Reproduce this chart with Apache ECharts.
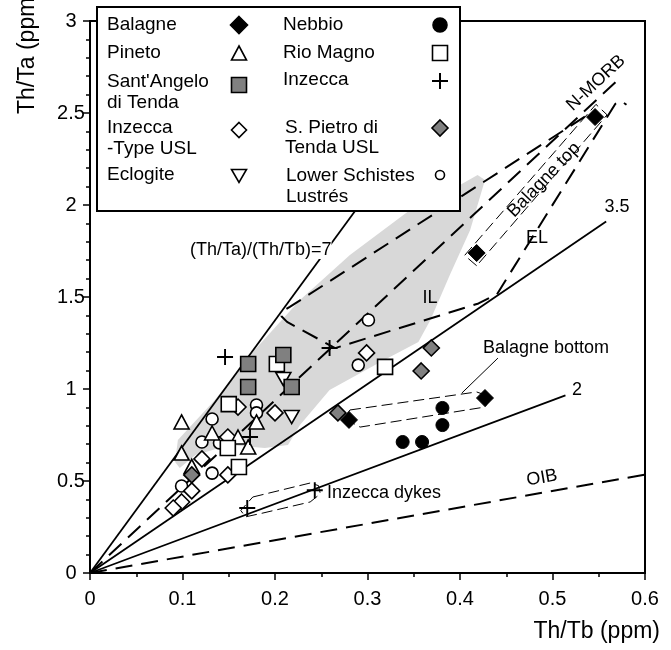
<!DOCTYPE html>
<html><head><meta charset="utf-8">
<script src="https://cdn.jsdelivr.net/npm/echarts@6/dist/echarts.min.js"></script>
<style>html,body{margin:0;padding:0;background:#fff}#c{width:671px;height:650px}</style>
</head><body><div id="c"></div>
<script>
// ---- tick labels ----
const xTickLabels = ['0','0.1','0.2','0.3','0.4','0.5','0.6'];
const yTickLabels = ['0','0.5','1','1.5','2','2.5','3'];

// ---- sample groups [Th/Tb, Th/Ta] ----
const balagne    = [[0.280,0.832],[0.427,0.951],[0.418,1.739],[0.546,2.478]];
const nebbio     = [[0.338,0.712],[0.359,0.712],[0.381,0.804],[0.381,0.897]];
const pineto     = [[0.099,0.821],[0.099,0.652],[0.132,0.761],[0.160,0.739],[0.171,0.685],[0.180,0.821],[0.110,0.580]];
const rioMagno   = [[0.150,0.918],[0.202,1.136],[0.149,0.679],[0.161,0.576],[0.319,1.120]];
const santAngelo = [[0.171,1.136],[0.171,1.011],[0.209,1.185],[0.218,1.011]];
const inzecca    = [[0.146,1.174],[0.173,0.739],[0.259,1.223],[0.170,0.353],[0.243,0.450]];
const inzeccaUSL = [[0.160,0.902],[0.200,0.870],[0.149,0.739],[0.121,0.620],[0.149,0.533],[0.110,0.446],[0.099,0.386],[0.090,0.353],[0.299,1.196]];
const sPietroUSL = [[0.110,0.533],[0.268,0.870],[0.358,1.098],[0.369,1.223]];
const eclogite   = [[0.209,1.054],[0.218,0.848]];
const lowerSL    = [[0.180,0.913],[0.180,0.870],[0.132,0.837],[0.121,0.712],[0.140,0.707],[0.132,0.543],[0.099,0.473],[0.301,1.375],[0.290,1.130]];

// ---- reference lines and fields ----
const line7      = [[0,0],[0.300,2.06]];
const line35     = [[0,0],[0.558,1.91]];
const line2      = [[0,0],[0.514,0.965]];
const oibLine    = [[0,0],[0.600,0.535]];
const nmorbLine  = [[0,0],[0.575,2.70]];
const ilElField  = [[0.535,2.48],[0.216,1.446],[0.209,1.425],[0.207,1.395],[0.213,1.365],[0.265,1.222],[0.420,1.465],[0.440,1.515],[0.568,2.550],[0.574,2.565],[0.580,2.545]];
const grayField  = [[0.092,0.603],[0.095,0.723],[0.135,0.940],[0.178,1.212],[0.227,1.484],[0.281,1.728],[0.346,1.973],[0.400,2.109],[0.419,2.163],[0.427,2.136],[0.411,1.864],[0.389,1.620],[0.368,1.375],[0.355,1.255],[0.314,1.147],[0.259,0.995],[0.227,0.804],[0.214,0.696],[0.189,0.679],[0.151,0.696],[0.114,0.641],[0.097,0.571]];
const balagneTop = [[0.418,1.670],[0.405,1.726],[0.547,2.547],[0.559,2.490],[0.418,1.670]];
const balagneBot = [[0.281,0.886],[0.418,0.984],[0.434,0.955],[0.427,0.902],[0.292,0.793],[0.275,0.840],[0.281,0.886]];
const balagneBotLeader = [[0.441,1.168],[0.402,0.978]];
const inzeccaDykes = [[0.176,0.413],[0.238,0.489],[0.247,0.475],[0.249,0.430],[0.238,0.386],[0.187,0.326],[0.168,0.305],[0.163,0.340],[0.176,0.413]];

const FONT = '"Liberation Sans", Arial, Helvetica, sans-serif';
const PLUS = 'path://M8.8,0h2.4v20h-2.4z M0,8.8h20v2.4h-20z';
const GRAY = '#808080';

const chart = echarts.init(document.getElementById('c'), null, {renderer:'canvas'});

function lineS(data, width, dash, z) {
  return {type:'line', data, symbol:'none', silent:true, animation:false, z: z || 3,
    lineStyle:{color:'#000', width, type: dash || 'solid', cap:'butt'}};
}
function scat(name, data, symbol, size, fill, bw, rot) {
  return {type:'scatter', name, data, symbol, symbolSize:size, symbolRotate: rot || 0, z:5,
    itemStyle:{color:fill, borderColor:'#000', borderWidth:bw, opacity:1}};
}
function txt(s, x, y, o) {
  o = o || {};
  return {type:'text', x, y, rotation: (o.rot || 0) * Math.PI / 180, z: o.z || 101,
    style:{text:s, fontSize:o.size || 18, fontFamily:FONT, fill:'#000',
      align:o.align || 'left', verticalAlign:'middle', backgroundColor:o.bg, padding:o.bg ? [0,0] : undefined}};
}
function diamond(cx, cy, r, fill) {
  return {type:'polygon', z:101, shape:{points:[[cx,cy-r],[cx+r,cy],[cx,cy+r],[cx-r,cy]]}, style:{fill, stroke:'#000', lineWidth:1.6}};
}
function tri(cx, cy, w, h, down) {
  const pts = down ? [[cx-w/2,cy-h/2],[cx+w/2,cy-h/2],[cx,cy+h/2]] : [[cx,cy-h/2],[cx+w/2,cy+h/2],[cx-w/2,cy+h/2]];
  return {type:'polygon', z:101, shape:{points:pts}, style:{fill:'#fff', stroke:'#000', lineWidth:1.6}};
}
function sq(cx, cy, s, fill) {
  return {type:'rect', z:101, shape:{x:cx-s/2, y:cy-s/2, width:s, height:s}, style:{fill, stroke:'#000', lineWidth:1.6}};
}
function circ(cx, cy, r, fill) {
  return {type:'circle', z:101, shape:{cx, cy, r}, style:{fill, stroke:'#000', lineWidth:1.6}};
}
function plus(cx, cy, r) {
  return {type:'group', z:101, children:[
    {type:'line', z:101, shape:{x1:cx-r, y1:cy, x2:cx+r, y2:cy}, style:{stroke:'#000', lineWidth:2}},
    {type:'line', z:101, shape:{x1:cx, y1:cy-r, x2:cx, y2:cy+r}, style:{stroke:'#000', lineWidth:2}}]};
}

const graphics = [
  // legend box
  {type:'rect', z:100, shape:{x:97, y:7, width:363, height:204}, style:{fill:'#fff', stroke:'#000', lineWidth:2}},
  txt('Balagne',107,25,{size:19}), txt('Pineto',107,53,{size:19}),
  txt("Sant'Angelo",107,82,{size:19}), txt('di Tenda',107,103,{size:19}),
  txt('Inzecca',107,128,{size:19}), txt('-Type USL',107,149,{size:19}),
  txt('Eclogite',107,175,{size:19}),
  txt('Nebbio',283,25,{size:19}), txt('Rio Magno',283,53,{size:19}),
  txt('Inzecca',283,80,{size:19}),
  txt('S. Pietro di',285,128,{size:19}), txt('Tenda USL',285,148,{size:19}),
  txt('Lower Schistes',286,176,{size:19}), txt('Lustrés',286,197,{size:19}),
  diamond(239,25,8.5,'#000'), tri(239,53,15,14,false), sq(239,85,15,GRAY),
  diamond(239,130,7.5,'#fff'), tri(239,176,15,13,true),
  circ(440,25,7,'#000'), sq(440,53,15,'#fff'), plus(440,81,8),
  diamond(440,128,8,GRAY), circ(440,175,4.5,'#fff'),
  // axis titles
  txt('Th/Ta (ppm)',28,52,{size:23, align:'center', rot:90}),
  txt('Th/Tb (ppm)',660,632,{size:23, align:'right'}),
  // in-plot annotations
  txt('(Th/Ta)/(Th/Tb)=7',190,250,{bg:'#fff', z:20}),
  txt('IL',430,298,{align:'center', z:20}),
  txt('EL',537,238,{align:'center', z:20}),
  txt('3.5',617,207,{align:'center', z:20}),
  txt('2',577,390,{align:'center', z:20}),
  txt('OIB',542,478,{align:'center', rot:10, z:20}),
  txt('Balagne bottom',483,348,{z:20}),
  txt('Inzecca dykes',327,493,{z:20}),
  txt('N-MORB',596,83,{align:'center', rot:43, z:20}),
  txt('Balagne top',544,180,{align:'center', rot:46, z:20})
];

const axisCommon = {
  type:'value',
  axisLine:{show:true, onZero:false, lineStyle:{color:'#000', width:2}},
  axisTick:{show:true, length:7, lineStyle:{color:'#000', width:1.5}},
  splitLine:{show:false}, minorSplitLine:{show:false}
};

chart.setOption({
  animation:false,
  backgroundColor:'#fff',
  grid:{left:90, right:26, top:21, bottom:77, show:true, borderColor:'#000', borderWidth:2},
  xAxis: Object.assign({}, axisCommon, {
    min:0, max:0.6, interval:0.1,
    minorTick:{show:true, splitNumber:2, length:4, lineStyle:{color:'#000', width:1.5}},
    axisLabel:{color:'#000', fontSize:20, fontFamily:FONT, margin:16,
      formatter: v => xTickLabels[Math.round(v / 0.1)]}
  }),
  yAxis: Object.assign({}, axisCommon, {
    min:0, max:3, interval:0.5,
    minorTick:{show:true, splitNumber:5, length:4, lineStyle:{color:'#000', width:1.5}},
    axisLabel:{color:'#000', fontSize:20, fontFamily:FONT, margin:19, align:'center',
      formatter: v => yTickLabels[Math.round(v / 0.5)]}
  }),
  series:[
    {type:'custom', silent:true, z:1, data:[[0,0]],
      renderItem:(params, api) => ({type:'polygon',
        shape:{points: grayField.map(p => api.coord(p))}, style:{fill:'#d8d8d8'}})},
    lineS(line7, 1.8), lineS(line35, 1.8), lineS(line2, 1.8),
    lineS(oibLine, 2, [17,9]), lineS(nmorbLine, 2, [17,9]), lineS(ilElField, 2, [17,9]),
    lineS(balagneTop, 1, [11,5]), lineS(balagneBot, 1, [11,5]), lineS(inzeccaDykes, 1, [11,5]),
    lineS(balagneBotLeader, 1),
    scat('Lower Schistes Lustrés', lowerSL, 'circle', 12, '#fff', 1.6),
    scat('Inzecca-Type USL', inzeccaUSL, 'diamond', 16, '#fff', 1.6),
    scat('Pineto', pineto, 'triangle', [15,14], '#fff', 1.6),
    scat('Rio Magno', rioMagno, 'rect', 15, '#fff', 1.6),
    scat('Eclogite', eclogite, 'triangle', [15,13], '#fff', 1.6, 180),
    scat("Sant'Angelo di Tenda", santAngelo, 'rect', 15, GRAY, 1.6),
    scat('S. Pietro di Tenda USL', sPietroUSL, 'diamond', 16, GRAY, 1.6),
    scat('Inzecca', inzecca, PLUS, 16, '#000', 0),
    scat('Nebbio', nebbio, 'circle', 13, '#000', 1),
    scat('Balagne', balagne, 'diamond', 17, '#000', 1)
  ],
  graphic: graphics
});
</script>
</body></html>
